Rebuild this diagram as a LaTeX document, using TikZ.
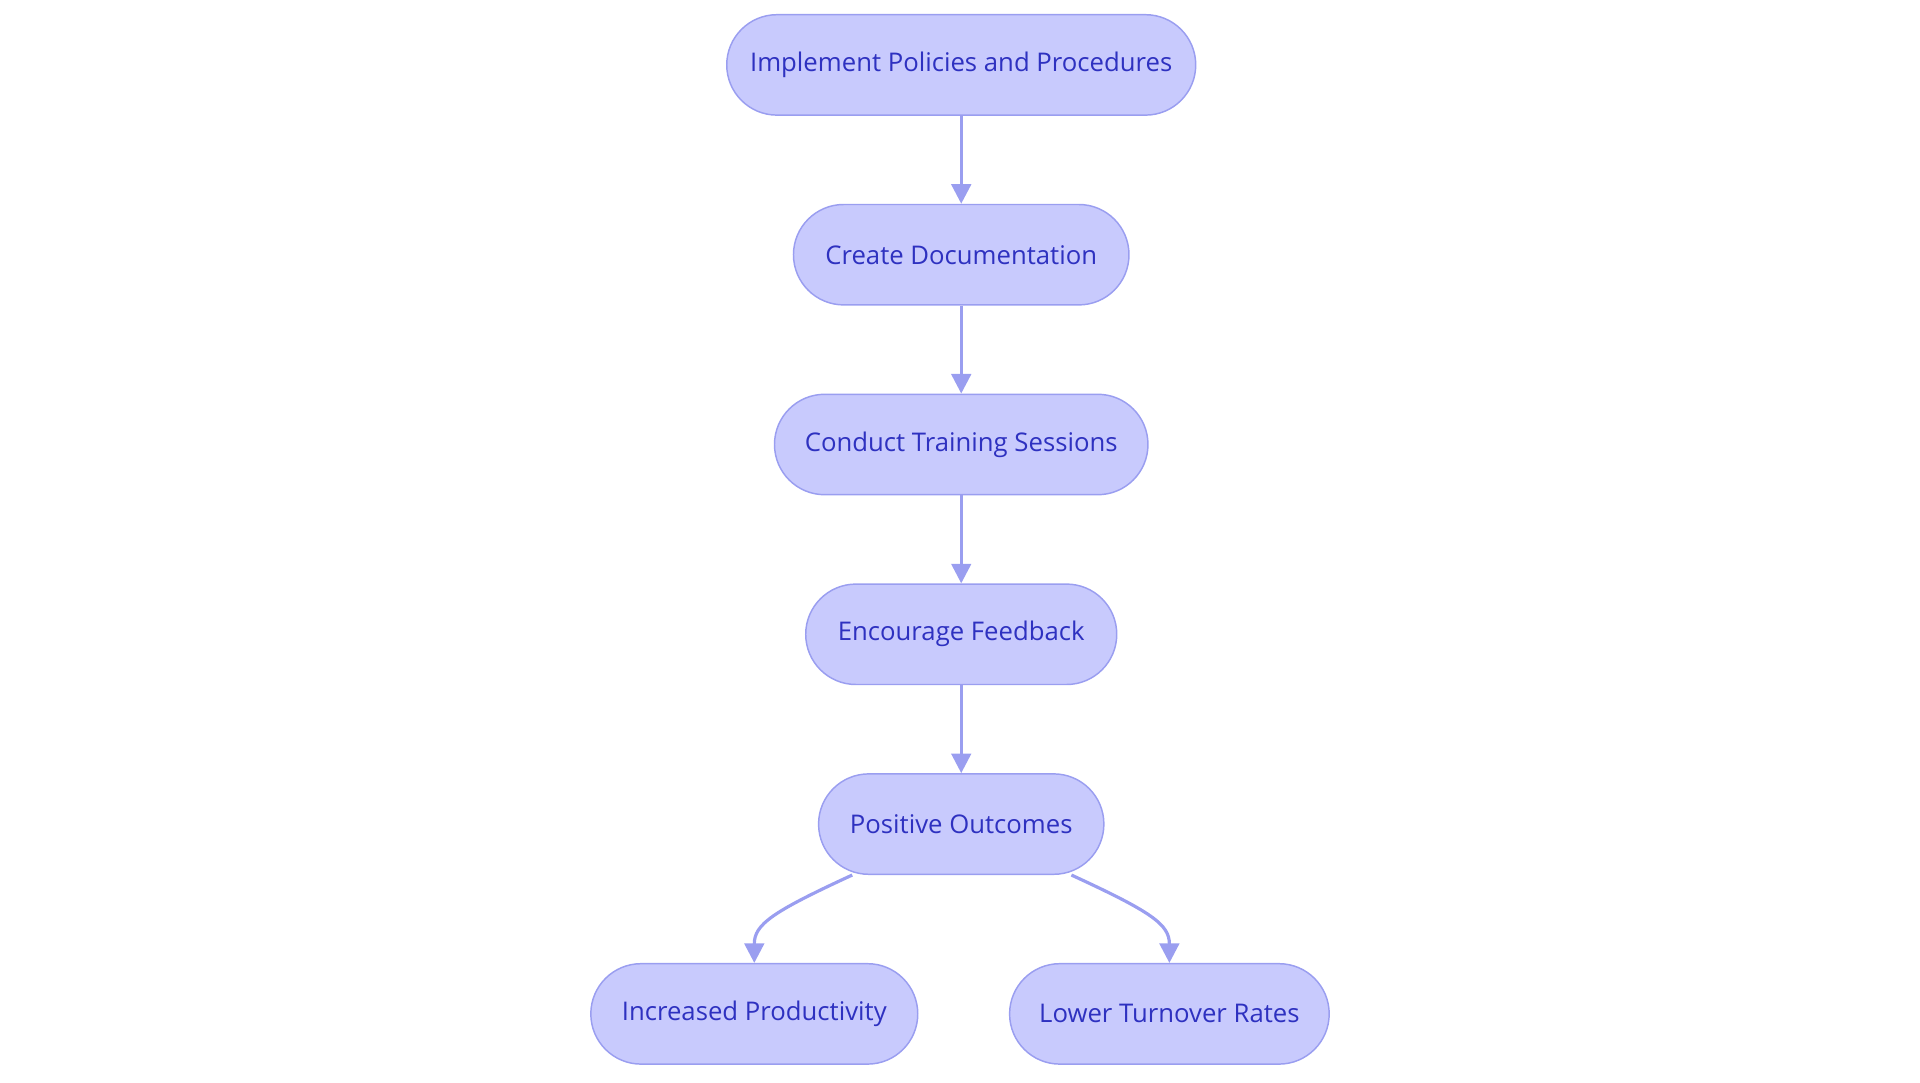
\documentclass[tikz,border=0pt]{standalone}
\usepackage{fontspec}
\setmainfont{Open Sans}
\usetikzlibrary{calc,arrows.meta}
\definecolor{nfill}{HTML}{C8CAFD}
\definecolor{nline}{HTML}{9A9EF0}
\definecolor{ntext}{HTML}{2E31C0}
\begin{document}
\begin{tikzpicture}[x=0.5pt,y=-0.5pt,
  box/.style={draw=nline,fill=nfill,text=ntext,rounded corners=20.5pt,line width=0.6pt,
    minimum height=41pt,inner xsep=0pt,font=\fontsize{10.5}{12}\selectfont},
  arr/.style={draw=nline,line width=1.3pt,-{Triangle[length=8pt,width=8pt]}}]
\useasboundingbox (0,0) rectangle (1568,884);
\node[box,minimum width=191.5pt] (p1) at (785,53) {Implement Policies and Procedures};
\node[box,minimum width=137pt] (p2) at (785,208) {Create Documentation};
\node[box,minimum width=152.5pt] (p3) at (785,363) {Conduct Training Sessions};
\node[box,minimum width=127pt] (p4) at (785,518) {Encourage Feedback};
\node[box,minimum width=116.5pt] (p5) at (785,673) {Positive Outcomes};
\node[box,minimum width=133.5pt] (p6) at (616,828) {Increased Productivity};
\node[box,minimum width=130.5pt] (p7) at (955,828) {Lower Turnover Rates};
\draw[arr] (p1) -- (p2);
\draw[arr] (p2) -- (p3);
\draw[arr] (p3) -- (p4);
\draw[arr] (p4) -- (p5);
\coordinate (a) at ($(p5.south)+(-89,0)$);
\coordinate (b) at ($(p5.south)+(90,0)$);
\draw[arr] (a) .. controls (630,745) and (616,755) .. (p6.north);
\draw[arr] (b) .. controls (941,745) and (955,755) .. (p7.north);
\end{tikzpicture}
\end{document}
